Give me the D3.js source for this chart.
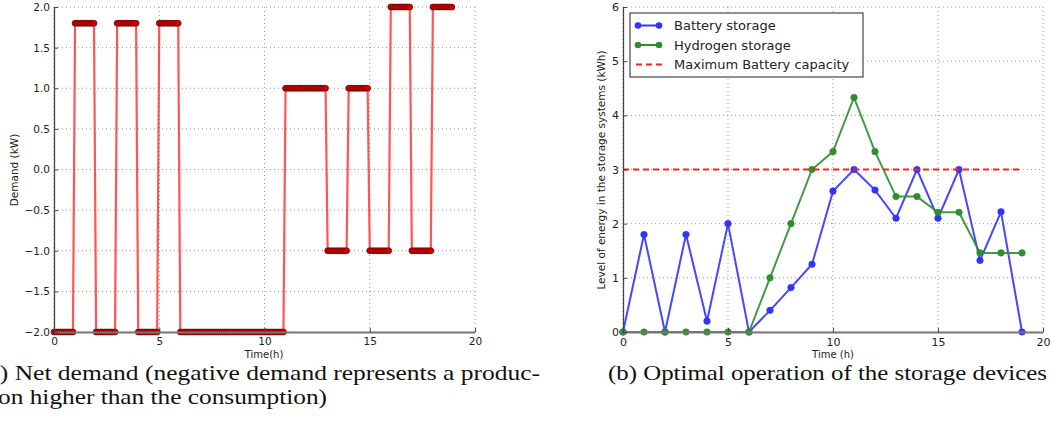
<!DOCTYPE html>
<html><head><meta charset="utf-8">
<script src="https://cdn.jsdelivr.net/npm/d3@7"></script>
<style>body{margin:0;background:#fff}svg{display:block}</style>
</head><body>
<svg id="c" width="1051" height="442"></svg>
<script>
// ---- Data ----
const demandHours = [0,1,2,3,4,5,6,7,8,9,10,11,12,13,14,15,16,17,18];
const demandValues = [-2,1.8,-2,1.8,-2,1.8,-2,-2,-2,-2,-2,1,1,-1,1,-1,2,-1,2];
const samplesPerHour = 10;
const demandTicksY = [-2,-1.5,-1,-0.5,0,0.5,1,1.5,2];
const timeTicks = [0,5,10,15,20];

const storageHours = [0,1,2,3,4,5,6,7,8,9,10,11,12,13,14,15,16,17,18,19];
const batteryValues = [0,1.8,0,1.8,0.2,2.0,0,0.4,0.82,1.25,2.6,3.0,2.62,2.1,3.0,2.1,3.0,1.32,2.22,0];
const hydrogenValues = [0,0,0,0,0,0,0,1.0,2.0,3.0,3.33,4.33,3.33,2.5,2.5,2.21,2.21,1.46,1.46,1.46];
const maxBattery = 3;
const maxBatteryRange = [0,19];
const storageTicksY = [0,1,2,3,4,5,6];
const legendLabels = ["Battery storage","Hydrogen storage","Maximum Battery capacity"];

const svg = d3.select("#c");
const fmt1 = v => (v<0?"\u2212":"") + Math.abs(v).toFixed(1);

function axesFrame(g, x, y, xt, yt){
  const [x0,x1] = x.range(), [y0,y1] = y.range();
  g.selectAll(".gy").data(yt).join("line")
    .attr("x1",x0).attr("x2",x1).attr("y1",d=>y(d)).attr("y2",d=>y(d))
    .attr("stroke","#999").attr("stroke-width",1).attr("stroke-dasharray","1,3");
  g.selectAll(".gx").data(xt).join("line")
    .attr("y1",y0).attr("y2",y1).attr("x1",d=>x(d)).attr("x2",d=>x(d))
    .attr("stroke","#999").attr("stroke-width",1).attr("stroke-dasharray","1,3");
}
function axesSpines(g, x, y, xt, yt, yfmt, fs){
  const [x0,x1] = x.range(), [y0,y1] = y.range();
  const ax = g.append("g").attr("transform",`translate(0,${y0})`)
    .call(d3.axisBottom(x).tickValues(xt).tickSizeInner(-4).tickSizeOuter(0).tickPadding(6));
  ax.select(".domain").attr("stroke","#777").attr("stroke-width",2);
  ax.selectAll(".tick line").attr("stroke","#444");
  ax.selectAll("text").attr("font-family","DejaVu Sans").attr("font-size",fs).attr("fill","#222");
  const ay = g.append("g").attr("transform",`translate(${x0},0)`)
    .call(d3.axisLeft(y).tickValues(yt).tickFormat(yfmt).tickSizeInner(-4).tickSizeOuter(0).tickPadding(4));
  ay.select(".domain").attr("stroke","#444").attr("stroke-width",1.3);
  ay.selectAll(".tick line").attr("stroke","#444");
  ay.selectAll("text").attr("font-family","DejaVu Sans").attr("font-size",fs).attr("fill","#222");
}

// ---- Left chart ----
{
  const x = d3.scaleLinear().domain([0,20]).range([54,475]);
  const y = d3.scaleLinear().domain([-2,2]).range([332,7]);
  const g = svg.append("g");
  axesFrame(g,x,y,timeTicks,demandTicksY);
  const pts = [];
  demandHours.forEach((h,i)=>{ for(let k=0;k<samplesPerHour;k++) pts.push([h+k/samplesPerHour, demandValues[i]]); });
  g.append("path").datum(pts)
    .attr("d", d3.line().x(d=>x(d[0])).y(d=>y(d[1])))
    .attr("fill","none").attr("stroke","#ff2a2a").attr("stroke-opacity",0.8).attr("stroke-width",2.2);
  g.selectAll(".m").data(pts).join("circle")
    .attr("cx",d=>x(d[0])).attr("cy",d=>y(d[1])).attr("r",3)
    .attr("fill","#d00000").attr("stroke","#500000").attr("stroke-width",0.6);
  axesSpines(g,x,y,timeTicks,demandTicksY,fmt1,10.5);
  g.append("text").attr("transform","translate(18,170) rotate(-90)").attr("text-anchor","middle")
    .attr("font-family","DejaVu Sans").attr("font-size",10.5).attr("fill","#222").text("Demand (kW)");
  g.append("text").attr("x",264).attr("y",358).attr("text-anchor","middle")
    .attr("font-family","DejaVu Sans").attr("font-size",10).attr("fill","#222").text("Time(h)");
}

// ---- Right chart ----
{
  const x = d3.scaleLinear().domain([0,20]).range([623,1043]);
  const y = d3.scaleLinear().domain([0,6]).range([332,7]);
  const g = svg.append("g");
  axesFrame(g,x,y,timeTicks,storageTicksY);
  const line = d3.line().x((d,i)=>x(storageHours[i])).y(d=>y(d));
  const series = [
    {vals: batteryValues, color:"#3333ff"},
    {vals: hydrogenValues, color:"#2f8f2f"}
  ];
  series.forEach(s=>{
    g.append("path").datum(s.vals).attr("d",line).attr("fill","none")
      .attr("stroke",s.color).attr("stroke-width",2).attr("stroke-opacity",0.9);
    g.selectAll(null).data(s.vals).join("circle")
      .attr("cx",(d,i)=>x(storageHours[i])).attr("cy",d=>y(d)).attr("r",3.3)
      .attr("fill",s.color).attr("stroke",s.color).attr("stroke-width",0.5);
  });
  g.append("line").attr("x1",x(maxBatteryRange[0])).attr("x2",x(maxBatteryRange[1]))
    .attr("y1",y(maxBattery)).attr("y2",y(maxBattery))
    .attr("stroke","#ff2020").attr("stroke-width",2).attr("stroke-dasharray","6,4");
  axesSpines(g,x,y,timeTicks,storageTicksY,d3.format("d"),11);
  g.append("text").attr("transform","translate(605,170) rotate(-90)").attr("text-anchor","middle")
    .attr("font-family","DejaVu Sans").attr("font-size",10.5).attr("fill","#222")
    .text("Level of energy in the storage systems (kWh)");
  g.append("text").attr("x",833).attr("y",358).attr("text-anchor","middle")
    .attr("font-family","DejaVu Sans").attr("font-size",10).attr("fill","#222").text("Time (h)");
  const lg = g.append("g");
  lg.append("rect").attr("x",630).attr("y",13).attr("width",233).attr("height",64)
    .attr("fill","#fff").attr("stroke","#555").attr("stroke-width",1.3);
  const colors = ["#3333ff","#2f8f2f","#ff2020"];
  legendLabels.forEach((lab,i)=>{
    const yy = 25.5 + i*19.5;
    if(i<2){
      lg.append("line").attr("x1",638).attr("x2",659).attr("y1",yy).attr("y2",yy)
        .attr("stroke",colors[i]).attr("stroke-width",2);
      [638,659].forEach(cx=>lg.append("circle").attr("cx",cx).attr("cy",yy).attr("r",3.3).attr("fill",colors[i]));
    } else {
      lg.append("line").attr("x1",636).attr("x2",662).attr("y1",yy).attr("y2",yy)
        .attr("stroke",colors[i]).attr("stroke-width",2).attr("stroke-dasharray","6,4");
    }
    lg.append("text").attr("x",674).attr("y",yy+4.5).attr("font-family","DejaVu Sans")
      .attr("font-size",13).attr("fill","#222").text(lab);
  });
}

// ---- Captions ----
const cap = svg.append("g").attr("font-family","Liberation Serif").attr("font-size",21).attr("fill","#111");
cap.append("text").attr("x",-20).attr("y",380).attr("textLength",560).attr("lengthAdjust","spacingAndGlyphs")
  .text("(a) Net demand (negative demand represents a produc-");
cap.append("text").attr("x",-16).attr("y",404).attr("textLength",343).attr("lengthAdjust","spacingAndGlyphs")
  .text("tion higher than the consumption)");
cap.append("text").attr("x",608).attr("y",380).attr("textLength",439).attr("lengthAdjust","spacingAndGlyphs")
  .text("(b) Optimal operation of the storage devices");
</script>
</body></html>
